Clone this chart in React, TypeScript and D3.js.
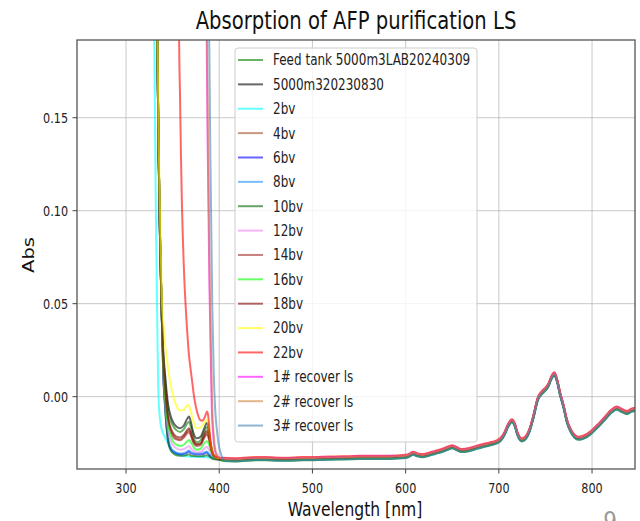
import React from "react";
import * as d3 from "d3";

type P = [number, number];

const W = 640;
const H = 521;
const PLOT = { left: 77, right: 635, top: 40, bottom: 469 };
const X_DOMAIN: P = [247.4, 846.1];
const Y_DOMAIN: P = [-0.0389, 0.1918];
const X_TICKS = [300, 400, 500, 600, 700, 800];
const Y_TICKS = [0, 0.05, 0.1, 0.15];
const TITLE = "Absorption of AFP purification LS";
const X_LABEL = "Wavelength [nm]";
const Y_LABEL = "Abs";

const SERIES_NAMES = [
  "Feed tank 5000m3LAB20240309",
  "5000m320230830",
  "2bv",
  "4bv",
  "6bv",
  "8bv",
  "10bv",
  "12bv",
  "14bv",
  "16bv",
  "18bv",
  "20bv",
  "22bv",
  "1# recover ls",
  "2# recover ls",
  "3# recover ls",
];
const SERIES_COLORS = [
  "green", "black", "cyan", "sienna", "blue", "dodgerblue", "darkgreen", "violet",
  "brown", "lime", "maroon", "yellow", "red", "magenta", "peru", "steelblue",
];
const TAIL_OFFSETS = [0, -0.0002, -0.0006, 0.0002, 0.0004, -0.0004, -0.0008, 0.0003, 0, -0.0003, 0.0001, 0.0007, 0.0009, 0.0006, 0.0004, -0.0007];

const CLUSTER_TOP: P[] = [[331, 0.4], [333.6, 0.19], [335, 0.13], [336.5, 0.085], [338.3, 0.045]];

const HEAD_FEED: P[] = [[340, 0.022], [341.8, 0.01], [343.5, 0.0], [345.4, -0.008], [348, -0.013], [350.8, -0.016], [354, -0.018], [358, -0.019], [362, -0.0175], [365.5, -0.0145], [367.6, -0.0135], [369.5, -0.016], [372, -0.021], [376, -0.0245], [380, -0.0235], [384, -0.019], [386.6, -0.0165], [388.5, -0.0185], [390.5, -0.025], [393, -0.0305], [396, -0.0328], [400, -0.0335]];
const HEAD_5000: P[] = [[340, 0.024], [341.8, 0.0127], [343.5, 0.003], [345.4, -0.005], [348, -0.0105], [350.8, -0.014], [354, -0.016], [358, -0.017], [362, -0.0155], [365.5, -0.012], [367.6, -0.0107], [369.5, -0.0135], [372, -0.019], [376, -0.0224], [380, -0.0215], [384, -0.017], [386.6, -0.0142], [388.5, -0.0165], [390.5, -0.024], [393, -0.03], [396, -0.0325], [400, -0.0333]];
const HEAD_2BV: P[] = [[327, 0.4], [330.3, 0.19], [332, 0.1], [333.5, 0.04], [334.6, 0.004], [336, -0.01], [338, -0.017], [341, -0.021], [344, -0.024], [348, -0.028], [354, -0.031], [365, -0.032], [380, -0.0325], [396, -0.033], [400, -0.0336]];
const HEAD_4BV: P[] = [[340, 0.018], [341.8, 0.005], [343.5, -0.006], [345.4, -0.013], [348, -0.018], [351, -0.021], [354, -0.0225], [358, -0.023], [362, -0.0215], [365.5, -0.019], [367.6, -0.018], [369.5, -0.02], [372, -0.024], [376, -0.026], [380, -0.0255], [384, -0.0215], [386.6, -0.0195], [388.5, -0.021], [390.5, -0.026], [393, -0.031], [396, -0.033], [400, -0.0336]];
const HEAD_6BV: P[] = [[340, 0.012], [341.8, -0.004], [343.5, -0.016], [345.4, -0.024], [348, -0.028], [352, -0.03], [358, -0.031], [364, -0.0305], [367.6, -0.0295], [370, -0.0305], [376, -0.031], [382, -0.031], [386.6, -0.03], [389, -0.0312], [393, -0.0328], [400, -0.0338]];
const HEAD_8BV: P[] = [[340, 0.013], [341.8, -0.003], [343.5, -0.015], [345.4, -0.023], [348, -0.0275], [352, -0.0295], [358, -0.0305], [364, -0.03], [367.6, -0.029], [370, -0.03], [376, -0.0305], [382, -0.0305], [386.6, -0.0295], [389, -0.031], [393, -0.0325], [400, -0.0336]];
const HEAD_10BV: P[] = [[340, 0.011], [341.8, -0.005], [343.5, -0.017], [345.4, -0.025], [348, -0.029], [352, -0.031], [358, -0.0318], [364, -0.0315], [367.6, -0.031], [370, -0.0318], [376, -0.032], [382, -0.032], [386.6, -0.0315], [389, -0.032], [393, -0.0335], [400, -0.034]];
const HEAD_12BV: P[] = [[340, 0.014], [341.8, -0.001], [343.5, -0.012], [345.4, -0.019], [348, -0.024], [352, -0.027], [358, -0.0285], [363, -0.028], [367.6, -0.0265], [370, -0.028], [376, -0.03], [381, -0.0295], [386.6, -0.027], [389, -0.0285], [393, -0.032], [400, -0.0335]];
const HEAD_14BV: P[] = [[340, 0.017], [341.8, 0.004], [343.5, -0.007], [345.4, -0.014], [348, -0.019], [351, -0.022], [354, -0.023], [358, -0.0235], [362, -0.022], [365.5, -0.0198], [367.6, -0.019], [369.5, -0.021], [372, -0.0245], [376, -0.0265], [380, -0.026], [384, -0.022], [386.6, -0.0205], [388.5, -0.022], [390.5, -0.0265], [393, -0.031], [396, -0.033], [400, -0.0336]];
const HEAD_16BV: P[] = [[340, 0.016], [341.8, 0.002], [343.5, -0.009], [345.4, -0.016], [348, -0.021], [351, -0.0245], [355, -0.026], [359, -0.0265], [363, -0.0255], [367.6, -0.0233], [370, -0.025], [373, -0.0275], [376, -0.0285], [380, -0.028], [384, -0.025], [386.6, -0.024], [388.5, -0.025], [391, -0.029], [394, -0.0325], [400, -0.0336]];
const HEAD_18BV: P[] = [[340, 0.019], [341.8, 0.006], [343.5, -0.005], [345.4, -0.012], [348, -0.017], [351, -0.02], [354, -0.0215], [358, -0.022], [362, -0.0205], [365.5, -0.018], [367.6, -0.017], [369.5, -0.019], [372, -0.023], [376, -0.0255], [380, -0.025], [384, -0.0205], [386.6, -0.0185], [388.5, -0.02], [390.5, -0.0255], [393, -0.0305], [396, -0.0328], [400, -0.0335]];
const HEAD_20BV: P[] = [[331.5, 0.4], [333.8, 0.19], [335.3, 0.13], [336.8, 0.09], [338.3, 0.055], [340, 0.0395], [342, 0.028], [343.6, 0.0213], [346, 0.012], [349, 0.0036], [352, -0.002], [354.4, -0.0055], [358, -0.0075], [362, -0.007], [365, -0.005], [366.9, -0.0045], [369, -0.007], [372, -0.013], [375.8, -0.017], [380, -0.0165], [384, -0.014], [386.6, -0.0125], [388.5, -0.015], [390.5, -0.024], [393, -0.03], [396, -0.0325], [400, -0.033]];
const HEAD_22BV: P[] = [[355, 0.4], [357, 0.19], [358, 0.16], [359, 0.128], [360, 0.103], [361, 0.085], [362, 0.07], [363, 0.058], [364.3, 0.046], [365.5, 0.036], [366.5, 0.029], [367.6, 0.022], [369, 0.016], [371, 0.008], [373, 0.0], [375, -0.0055], [377, -0.0095], [379.4, -0.0125], [382, -0.013], [384.5, -0.011], [387, -0.008], [388.5, -0.0115], [390, -0.021], [392, -0.029], [395, -0.032], [400, -0.0328]];
const HEAD_REC1: P[] = [[385, 0.4], [386.6, 0.19], [388, 0.12], [389.5, 0.06], [391, 0.02], [392, -0.0055], [393.5, -0.02], [395.5, -0.029], [398, -0.032], [400, -0.0328]];
const HEAD_REC2: P[] = [[385.4, 0.4], [387.0, 0.19], [388.4, 0.12], [389.9, 0.06], [391.4, 0.02], [392.5, -0.006], [394, -0.02], [396, -0.029], [398.5, -0.032], [400, -0.0328]];
const HEAD_REC3: P[] = [[387.5, 0.4], [389.3, 0.19], [391, 0.11], [392.5, 0.05], [394, 0.015], [395.5, -0.0055], [397.5, -0.018], [399.5, -0.026], [402, -0.031]];

const TAIL: P[] = [
  [405, -0.0338], [410, -0.0339], [420, -0.034], [430, -0.0336], [440, -0.0334], [450, -0.0334],
  [460, -0.0336], [470, -0.0337], [480, -0.0336], [490, -0.0334], [500, -0.0334], [510, -0.0332],
  [520, -0.0331], [530, -0.033], [540, -0.0329], [550, -0.0327], [560, -0.0327], [570, -0.0327],
  [580, -0.0327], [590, -0.0325], [600, -0.0322], [604, -0.0315], [608, -0.0305], [612, -0.0312],
  [618, -0.0318], [625, -0.031], [632, -0.03], [640, -0.0288], [646, -0.0276], [650, -0.027],
  [654, -0.0278], [660, -0.029], [668, -0.0285], [675, -0.0275], [682, -0.0265], [690, -0.0255],
  [697, -0.0245], [702, -0.023], [706, -0.02], [710, -0.0155], [714, -0.013], [717, -0.015],
  [720, -0.02], [724.6, -0.0233], [728, -0.0225], [733, -0.018], [737, -0.011], [742, -0.001],
  [746, 0.002], [750, 0.004], [753, 0.006], [756.7, 0.0105], [759.6, 0.0122], [762, 0.0095],
  [766, 0.001], [769.5, -0.0054], [773, -0.013], [776.7, -0.0179], [781, -0.0212], [785.6, -0.0224],
  [791, -0.0218], [798, -0.0197], [804, -0.0168], [809, -0.0143], [815, -0.011], [820, -0.0082],
  [826.6, -0.0062], [832, -0.0075], [837.4, -0.0086], [842, -0.0074], [846.5, -0.0068],
];

const HEADS: P[][] = [
  CLUSTER_TOP.concat(HEAD_FEED),
  CLUSTER_TOP.concat(HEAD_5000),
  HEAD_2BV,
  CLUSTER_TOP.concat(HEAD_4BV),
  CLUSTER_TOP.concat(HEAD_6BV),
  CLUSTER_TOP.concat(HEAD_8BV),
  CLUSTER_TOP.concat(HEAD_10BV),
  CLUSTER_TOP.concat(HEAD_12BV),
  CLUSTER_TOP.concat(HEAD_14BV),
  CLUSTER_TOP.concat(HEAD_16BV),
  CLUSTER_TOP.concat(HEAD_18BV),
  HEAD_20BV,
  HEAD_22BV,
  HEAD_REC1,
  HEAD_REC2,
  HEAD_REC3,
];

const FONT = "DejaVu Sans";
const SQ = 0.8;

export default function App() {
  const x = d3.scaleLinear().domain(X_DOMAIN).range([PLOT.left, PLOT.right]);
  const y = d3.scaleLinear().domain(Y_DOMAIN).range([PLOT.bottom, PLOT.top]);
  const line = d3
    .line<P>()
    .x((d) => x(d[0]))
    .y((d) => y(d[1]))
    .curve(d3.curveMonotoneX);

  const series = HEADS.map((head, i) =>
    head.concat(TAIL.map(([w, v]) => [w, v + TAIL_OFFSETS[i]] as P))
  );

  const legX = 235, legY = 48, legW = 242, legH = 394;
  const rowY0 = 60, rowStep = 24.37;

  return (
    <svg width={W} height={H} style={{ display: "block", position: "absolute", left: 0, top: 0 }}>
      <defs>
        <clipPath id="plotclip">
          <rect x={PLOT.left} y={PLOT.top} width={PLOT.right - PLOT.left} height={PLOT.bottom - PLOT.top} />
        </clipPath>
      </defs>
      <rect x={0} y={0} width={W} height={H} fill="white" />
      {/* grid */}
      {X_TICKS.map((t) => (
        <line key={"gx" + t} x1={x(t)} x2={x(t)} y1={PLOT.top} y2={PLOT.bottom} stroke="#b0b0b0" strokeOpacity={0.7} strokeWidth={1} />
      ))}
      {Y_TICKS.map((t) => (
        <line key={"gy" + t} x1={PLOT.left} x2={PLOT.right} y1={y(t)} y2={y(t)} stroke="#b0b0b0" strokeOpacity={0.7} strokeWidth={1} />
      ))}
      {/* series */}
      <g clipPath="url(#plotclip)">
        {series.map((pts, i) => (
          <path key={i} d={line(pts) || ""} fill="none" stroke={SERIES_COLORS[i]} strokeOpacity={0.6} strokeWidth={2} />
        ))}
      </g>
      {/* spines */}
      <rect x={PLOT.left} y={PLOT.top} width={PLOT.right - PLOT.left} height={PLOT.bottom - PLOT.top} fill="none" stroke="#555" strokeWidth={1.3} />
      {/* ticks */}
      {X_TICKS.map((t) => (
        <g key={"tx" + t}>
          <line x1={x(t)} x2={x(t)} y1={PLOT.bottom} y2={PLOT.bottom + 4.5} stroke="#444" strokeWidth={1} />
          <text transform={`translate(${x(t)},${492.5}) scale(${SQ},1)`} textAnchor="middle" fontFamily={FONT} fontSize={14} fill="#222">
            {t}
          </text>
        </g>
      ))}
      {Y_TICKS.map((t) => (
        <g key={"ty" + t}>
          <line x1={PLOT.left - 4.5} x2={PLOT.left} y1={y(t)} y2={y(t)} stroke="#444" strokeWidth={1} />
          <text transform={`translate(${68},${y(t) + 5}) scale(${SQ},1)`} textAnchor="end" fontFamily={FONT} fontSize={14} fill="#222">
            {t.toFixed(2)}
          </text>
        </g>
      ))}
      {/* labels */}
      <text transform={`translate(${356},${28.5}) scale(${SQ},1)`} textAnchor="middle" fontFamily={FONT} fontSize={24.5} fill="#111">
        {TITLE}
      </text>
      <text transform={`translate(${355},${516}) scale(${SQ},1)`} textAnchor="middle" fontFamily={FONT} fontSize={19.5} fill="#111">
        {X_LABEL}
      </text>
      <text transform={`translate(${34},${255}) scale(${SQ},1) rotate(-90)`} textAnchor="middle" fontFamily={FONT} fontSize={19.5} fill="#111">
        {Y_LABEL}
      </text>
      {/* legend */}
      <rect x={legX} y={legY} width={legW} height={legH} rx={3} fill="white" fillOpacity={0.8} stroke="#cccccc" strokeWidth={1} />
      {SERIES_NAMES.map((name, i) => {
        const ry = rowY0 + i * rowStep;
        return (
          <g key={"lg" + i}>
            <line x1={238} x2={263} y1={ry} y2={ry} stroke={SERIES_COLORS[i]} strokeOpacity={0.6} strokeWidth={2} />
            <text transform={`translate(${273},${ry + 5.4}) scale(${SQ},1)`} fontFamily={FONT} fontSize={15} fill="#222">
              {name}
            </text>
          </g>
        );
      })}
      <text transform={`translate(${610},${531}) scale(${SQ},1)`} textAnchor="middle" fontFamily={FONT} fontSize={27} fill="#999">
        9
      </text>
    </svg>
  );
}
